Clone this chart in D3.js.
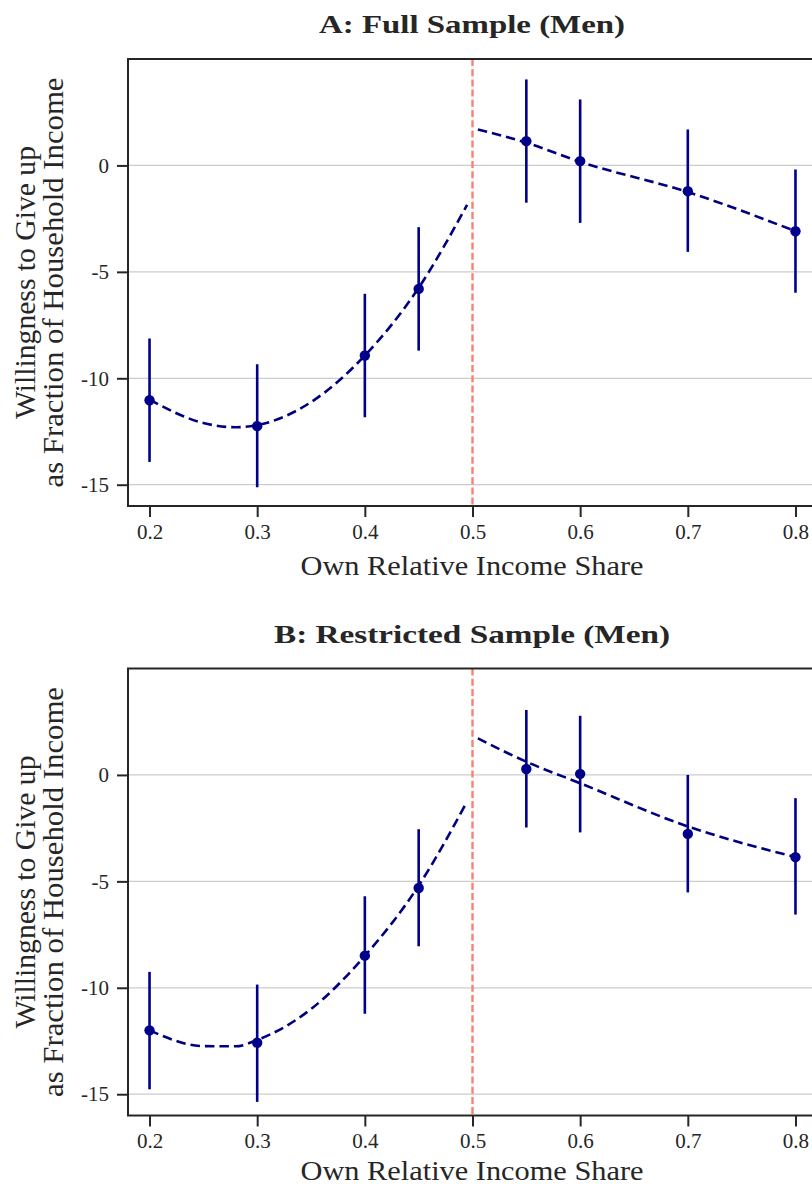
<!DOCTYPE html>
<html>
<head>
<meta charset="utf-8">
<script src="https://cdn.jsdelivr.net/npm/d3@7"></script>
<style>
  body { margin: 0; background: #fff; }
  svg { display: block; }
  text { font-family: "Liberation Serif", "DejaVu Serif", serif; fill: #262626; }
</style>
</head>
<body>
<div id="chart"></div>
<script>
let width = 812,
height = 1187;

// bin midpoints (own relative income share)
const shares = [0.2, 0.3, 0.4, 0.45, 0.55, 0.6, 0.7, 0.8];
const xTicks = [0.2, 0.3, 0.4, 0.5, 0.6, 0.7, 0.8];
const yTicks = [0, -5, -10, -15];

// Panel A: full sample
const estA = [-11.03, -12.25, -8.93, -5.80, 1.14, 0.20, -1.21, -3.09];
const loA  = [-13.93, -15.12, -11.83, -8.70, -1.75, -2.70, -4.06, -5.98];
const hiA  = [-8.13, -9.34, -6.03, -2.90, 4.04, 3.10, 1.69, -0.19];

// Panel B: restricted sample
const estB = [-12.00, -12.58, -8.49, -5.31, 0.28, 0.05, -2.77, -3.86];
const loB  = [-14.77, -15.36, -11.22, -8.05, -2.47, -2.70, -5.52, -6.56];
const hiB  = [-9.25, -9.85, -5.70, -2.55, 3.05, 2.78, 0.00, -1.09];

// fitted lines
const fitLeftX  = [0.2, 0.25, 0.28, 0.3, 0.35, 0.4, 0.45, 0.495];
const fitLeftA  = [-11.0, -12.1, -12.3, -12.2, -11.12, -8.93, -5.75, -1.85];
const fitLeftB  = [-12.0, -12.74, -12.75, -12.45, -11.0, -8.5, -5.2, -1.25];
const fitRightX = [0.505, 0.55, 0.6, 0.7, 0.8];
const fitRightA = [1.69, 1.07, 0.17, -1.25, -3.09];
const fitRightB = [1.72, 0.62, -0.39, -2.42, -3.86];

const titles = ["A: Full Sample (Men)", "B: Restricted Sample (Men)"];
const titleWidths = [306, 396];

let svg = d3.select("#chart")
.append("svg")
.attr("width", width)
.attr("height", height);

let x = d3.scaleLinear().domain([0.18, 0.82]).range([128, 817]);

function drawPanel(top, k, est, lo, hi, fitL, fitR, xlabGap) {
    let plotH = 447;
    let y = d3.scaleLinear().domain([-16, 5]).range([top + plotH, top]);
    let g = svg.append("g");

    // title
    g.append("text")
        .attr("x", 472).attr("y", top - 26)
        .attr("text-anchor", "middle")
        .attr("textLength", titleWidths[k]).attr("lengthAdjust", "spacingAndGlyphs")
        .style("font-size", "26px").style("font-weight", "bold")
        .text(titles[k]);

    // horizontal grid
    g.selectAll(".grid")
        .data(yTicks)
        .join("line")
        .attr("x1", 128).attr("x2", 817)
        .attr("y1", d => y(d)).attr("y2", d => y(d))
        .attr("stroke", "#cccccc").attr("stroke-width", 1.2);

    // cutoff at 0.5
    g.append("line")
        .attr("x1", x(0.5)).attr("x2", x(0.5))
        .attr("y1", top).attr("y2", top + plotH)
        .attr("stroke", "salmon").attr("stroke-width", 2.4)
        .attr("stroke-dasharray", "7,3.2");

    // fits
    let line = d3.line()
        .x(d => x(d[0])).y(d => y(d[1]))
        .curve(d3.curveMonotoneX);
    g.append("path")
        .attr("d", line(fitLeftX.map((v, i) => [v, fitL[i]])))
        .attr("fill", "none").attr("stroke", "navy")
        .attr("stroke-width", 2.6).attr("stroke-dasharray", "9.5,5");
    g.append("path")
        .attr("d", line(fitRightX.map((v, i) => [v, fitR[i]])))
        .attr("fill", "none").attr("stroke", "navy")
        .attr("stroke-width", 2.6).attr("stroke-dasharray", "9.5,5");

    // error bars
    g.selectAll(".err")
        .data(shares)
        .join("line")
        .attr("x1", d => x(d)).attr("x2", d => x(d))
        .attr("y1", (d, i) => y(lo[i])).attr("y2", (d, i) => y(hi[i]))
        .attr("stroke", "darkblue").attr("stroke-width", 2.6);

    g.selectAll(".pt")
        .data(shares)
        .join("circle")
        .attr("cx", d => x(d))
        .attr("cy", (d, i) => y(est[i]))
        .attr("r", 5.2)
        .attr("fill", "darkblue");

    // frame
    g.append("rect")
        .attr("x", 128).attr("y", top)
        .attr("width", 689).attr("height", plotH)
        .attr("fill", "none").attr("stroke", "#262626").attr("stroke-width", 2);

    // axes
    let xAxis = d3.axisBottom(x).tickValues(xTicks).tickFormat(d3.format(".1f"))
        .tickSize(11).tickPadding(7);
    let gx = g.append("g").attr("transform", `translate(0,${top + plotH})`).call(xAxis);
    let yAxis = d3.axisLeft(y).tickValues(yTicks).tickFormat(d => String(d))
        .tickSize(11).tickPadding(8);
    let gy = g.append("g").attr("transform", "translate(128,0)").call(yAxis);
    [gx, gy].forEach(a => {
        a.select(".domain").remove();
        a.selectAll(".tick line").attr("stroke", "#262626").attr("stroke-width", 2);
        a.selectAll(".tick text").style("font-size", "21px")
            .style("font-family", "Liberation Serif").attr("fill", "#262626");
    });

    // axis labels
    g.append("text")
        .attr("x", 472).attr("y", top + plotH + xlabGap)
        .attr("text-anchor", "middle")
        .attr("textLength", 343).attr("lengthAdjust", "spacingAndGlyphs")
        .style("font-size", "28px")
        .text("Own Relative Income Share");

    let cy = top + plotH / 2;
    g.append("text")
        .attr("transform", `translate(35,${cy}) rotate(-90)`)
        .attr("text-anchor", "middle")
        .attr("textLength", 273).attr("lengthAdjust", "spacingAndGlyphs")
        .style("font-size", "29px")
        .text("Willingness to Give up");
    g.append("text")
        .attr("transform", `translate(63,${cy}) rotate(-90)`)
        .attr("text-anchor", "middle")
        .attr("textLength", 410).attr("lengthAdjust", "spacingAndGlyphs")
        .style("font-size", "29px")
        .text("as Fraction of Household Income");
}

drawPanel(59, 0, estA, loA, hiA, fitLeftA, fitRightA, 69);
drawPanel(668.5, 1, estB, loB, hiB, fitLeftB, fitRightB, 64);
</script>
</body>
</html>
